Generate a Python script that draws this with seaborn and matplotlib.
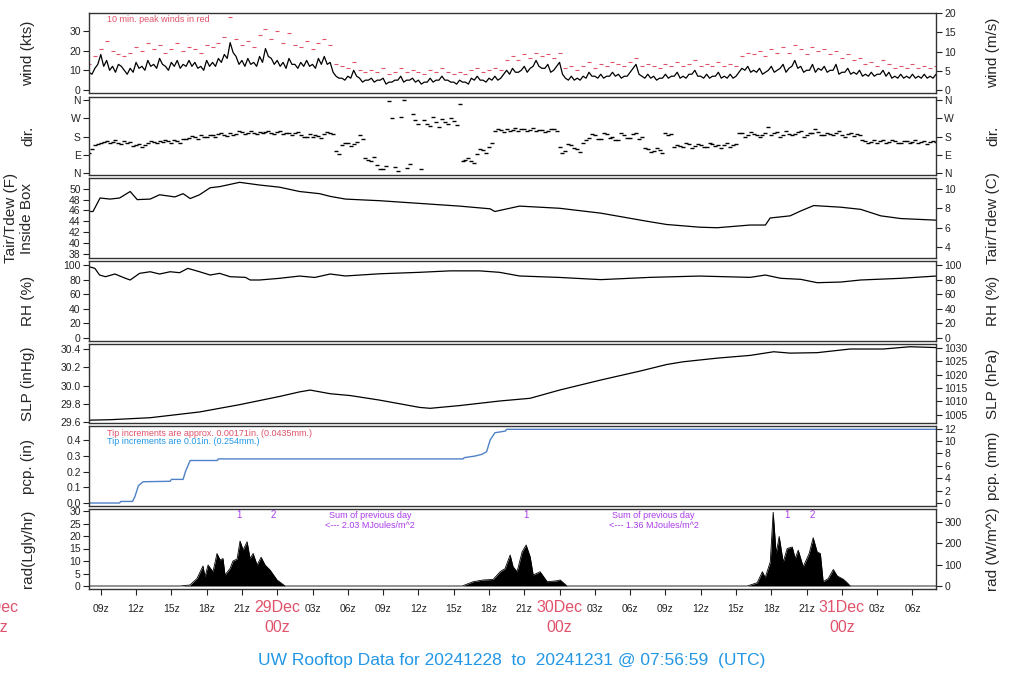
import numpy as np
import matplotlib
matplotlib.use("Agg")
import matplotlib.pyplot as plt
import seaborn as sns

sns.set_style("white")
plt.rcParams['font.family'] = ['Liberation Sans', 'DejaVu Sans']

## data (time = hours after 28 Dec 00z)
t_half = np.arange(8.0, 80.01, 0.5)
t_quarter = np.arange(8.25, 79.8, 0.5)

wind_kts = [9, 11, 18, 15, 12, 13, 10, 11, 14, 12, 15, 13,
            16, 12, 14, 15, 13, 15, 14, 12, 15, 14, 16, 18,
            24, 17, 15, 16, 14, 17, 21, 16, 15, 14, 16, 13,
            14, 15, 13, 16, 17, 14, 7, 6, 7, 10, 6, 5,
            6, 5, 6, 4, 5, 7, 5, 6, 5, 4, 6, 5,
            7, 5, 4, 5, 4, 6, 7, 5, 6, 7, 6, 10,
            11, 9, 12, 11, 15, 11, 13, 10, 14, 6, 7, 6,
            7, 9, 7, 8, 7, 9, 8, 7, 9, 13, 7, 8,
            7, 6, 8, 7, 9, 7, 8, 10, 7, 8, 7, 9,
            7, 8, 7, 11, 12, 10, 11, 9, 12, 10, 13, 11,
            15, 12, 10, 13, 11, 12, 10, 13, 9, 11, 9, 10,
            8, 9, 8, 10, 9, 7, 8, 7, 8, 7, 8, 7,
            8]
# readings between the half-hour ones (low side of the band)
wind_q = [8, 13, 12, 10, 9, 12, 8, 9, 11, 10, 12, 11,
          13, 10, 12, 11, 12, 12, 11, 10, 12, 12, 14, 16,
          19, 13, 12, 13, 12, 14, 17, 13, 12, 11, 13, 11,
          12, 12, 11, 13, 13, 9, 6, 5, 6, 7, 4, 5,
          4, 5, 3, 4, 5, 4, 5, 4, 3, 4, 4, 5,
          5, 4, 3, 4, 3, 5, 5, 4, 5, 5, 8, 8,
          9, 10, 9, 12, 12, 11, 9, 12, 8, 5, 5, 5,
          6, 7, 6, 6, 7, 7, 6, 7, 11, 8, 6, 6,
          5, 6, 6, 7, 6, 6, 8, 7, 6, 6, 7, 6,
          6, 6, 9, 10, 9, 9, 8, 10, 9, 11, 9, 12,
          11, 9, 10, 9, 10, 9, 10, 8, 9, 8, 8, 7,
          7, 7, 8, 7, 6, 6, 6, 6, 6, 6, 6, 6]

peak_kts = [13, 17, 21, 25, 20, 18, 17, 19, 22, 20, 24, 21,
            23, 19, 21, 24, 20, 22, 21, 19, 23, 22, 24, 27,
            37, 26, 23, 25, 22, 28, 31, 26, 30, 24, 29, 23,
            22, 25, 21, 24, 26, 23, 13, 12, 11, 14, 10, 9,
            10, 9, 11, 8, 9, 11, 9, 10, 9, 8, 10, 9,
            11, 9, 8, 9, 8, 10, 11, 9, 10, 11, 10, 15,
            17, 15, 18, 16, 19, 17, 18, 16, 19, 11, 12, 10,
            12, 14, 11, 13, 12, 14, 13, 12, 14, 16, 12, 13,
            12, 11, 13, 12, 14, 12, 13, 15, 12, 13, 12, 14,
            12, 13, 12, 17, 19, 18, 20, 17, 21, 19, 22, 19,
            23, 21, 18, 22, 20, 21, 18, 20, 16, 18, 15, 16,
            13, 14, 12, 15, 13, 11, 12, 11, 13, 11, 12, 11,
            12]

dir_deg = [100, 140, 150, 160, 155, 150, 160, 155, 140, 128, 150, 155,
           160, 165, 150, 160, 170, 175, 180, 185, 178, 185, 190, 188,
           195, 190, 200, 198, 195, 202, 200, 196, 200, 192, 198, 195,
           185, 180, 178, 183, 190, 197, 110, 140, 148, 145, 185, 75,
           60, 40, 20, 355, 30, 275, 25, 290, 240, 260, 230, 250,
           265, 240, 255, 340, 65, 60, 95, 115, 130, 205, 210, 215,
           212, 208, 215, 210, 205, 212, 208, 215, 130, 110, 140, 120,
           150, 175, 185, 170, 190, 180, 165, 185, 175, 195, 180, 120,
           110, 115, 195, 190, 140, 130, 145, 135, 140, 128, 145, 138,
           140, 130, 145, 195, 185, 190, 180, 195, 188, 200, 185, 192,
           190, 205, 185, 195, 200, 188, 192, 198, 185, 190, 182, 188,
           160, 155, 150, 162, 155, 158, 150, 160, 155, 148, 158, 152,
           155]
dir_q = [120, 145, 155, 150, 162, 145, 150, 135, 145, 140, 158, 150,
         155, 158, 165, 150, 168, 182, 170, 178, 188, 180, 195, 182,
         185, 205, 192, 205, 190, 196, 205, 190, 205, 198, 188, 200,
         178, 190, 185, 175, 200, 192, 95, 150, 135, 155, 170, 65,
         80, 20, 35, 270, 10, 360, 45, 260, 20, 240, 275, 225,
         250, 270, 235, 60, 75, 50, 120, 100, 150, 215, 200, 205,
         220, 215, 205, 222, 210, 200, 218, 205, 100, 145, 125, 105,
         165, 190, 170, 195, 175, 165, 195, 175, 190, 168, 125, 105,
         125, 100, 185, 130, 135, 150, 125, 145, 130, 150, 135, 125,
         150, 140, 195, 180, 200, 188, 185, 225, 195, 180, 205, 185,
         200, 180, 195, 215, 185, 198, 185, 205, 180, 195, 190, 165,
         150, 165, 158, 148, 165, 150, 160, 148, 162, 155, 145, 160]

t_temp = [8.0, 8.34, 8.94, 9.79, 10.6, 11.5, 12.1, 13.2, 14.0, 15.3, 16.0, 16.6, 17.4, 18.3, 19.1,
          20.8, 22.5, 24.2, 25.9, 27.6, 28.5, 29.8, 32.7, 36.1, 39.5, 42.1, 42.5, 44.6, 48.0, 51.5,
          54.9, 55.7, 57.1, 59.9, 61.4, 64.2, 65.5, 65.9, 67.6, 68.5, 69.6, 71.9, 73.6, 75.3, 77.0, 80.0]
temp_f = [45.8, 45.8, 48.3, 48.1, 48.3, 49.5, 48.0, 48.1, 48.9, 48.5, 49.1, 48.2, 48.9, 50.2, 50.4,
          51.2, 50.7, 50.3, 49.5, 49.1, 48.6, 48.1, 47.8, 47.3, 46.8, 46.3, 45.8, 46.8, 46.4, 45.5,
          44.2, 43.9, 43.4, 42.9, 42.8, 43.3, 43.3, 44.6, 45.0, 45.9, 46.9, 46.6, 46.2, 45.0, 44.5, 44.2]

t_rh = [8.0, 8.5, 8.9, 9.4, 10.2, 11.1, 11.5, 12.3, 13.2, 14.0, 14.9, 15.7, 16.4, 17.4, 18.3,
        19.1, 20.0, 21.3, 21.7, 22.5, 24.2, 25.9, 27.2, 28.5, 29.8, 32.7, 36.1, 38.7, 41.2, 42.9,
        44.6, 48.0, 51.5, 55.7, 59.9, 64.2, 65.5, 66.8, 68.5, 69.9, 71.9, 73.6, 77.0, 80.0]
rh = [97.7, 95.4, 86.3, 84.0, 87.7, 81.8, 79.5, 88.6, 90.8, 87.7, 90.8, 89.5, 95.4, 90.8, 86.3,
      88.6, 84.0, 83.1, 79.5, 79.5, 81.8, 84.9, 83.0, 87.7, 85.0, 88.0, 90.0, 92.0, 92.0, 90.0,
      85.0, 83.0, 80.0, 83.1, 84.9, 83.1, 86.3, 81.8, 80.4, 75.8, 76.7, 79.5, 81.8, 84.9]

t_slp = [8.0, 9.8, 13.2, 17.4, 20.8, 24.2, 25.9, 26.8, 28.5, 30.2, 32.7, 36.1, 37.0, 39.5, 42.9,
         45.5, 48.0, 51.5, 54.9, 57.1, 58.5, 61.4, 64.2, 66.2, 67.6, 69.9, 72.7, 75.5, 77.8, 80.0]
slp = [29.62, 29.625, 29.647, 29.71, 29.79, 29.88, 29.93, 29.95, 29.91, 29.89, 29.84, 29.76, 29.75, 29.78, 29.83,
       29.86, 29.95, 30.06, 30.16, 30.23, 30.26, 30.30, 30.33, 30.37, 30.355, 30.36, 30.40, 30.40, 30.425, 30.416]

t_pcp = [8.0, 10.6, 10.7, 11.7, 11.9, 12.2, 12.6, 14.9, 15.0, 16.0, 16.2, 16.6, 18.9, 19.0,
         39.8, 39.9, 40.8, 41.4, 41.8, 42.1, 42.5, 43.4, 43.5, 80.0]
pcp = [0, 0, 0.01, 0.01, 0.04, 0.11, 0.135, 0.138, 0.15, 0.15, 0.2, 0.27, 0.27, 0.28,
       0.28, 0.288, 0.298, 0.309, 0.326, 0.4, 0.446, 0.457, 0.468, 0.468]

t_rad = [8.0,
         15.74, 16.59, 17.18, 17.69, 17.86, 18.12, 18.54, 18.88, 19.14, 19.39, 19.56, 19.99, 20.24,
         20.59, 20.84, 21.1, 21.44, 21.69, 21.95, 22.29, 22.63, 22.97, 23.39, 23.99, 24.67,
         39.72, 40.65, 41.5, 42.35, 42.95, 43.37, 43.8, 44.05, 44.39, 44.82, 45.16, 45.5, 45.76,
         46.35, 46.95, 47.8, 48.05, 48.64,
         63.95, 64.8, 65.24, 65.48, 65.91, 66.16, 66.41, 66.67, 67.01, 67.35, 67.78, 68.03, 68.29,
         68.71, 69.22, 69.56, 69.9, 70.17, 70.41, 70.84, 71.27, 71.61, 72.12, 72.45, 72.71,
         80.0]
rad = [0,
       0, 0.4, 3, 8, 3.7, 8.4, 5.7, 13, 10.4, 11, 4.4, 7, 10,
       10.8, 18, 14.4, 17.7, 11, 13, 8.4, 11.5, 8.4, 6.4, 2.4, 0,
       0, 1.7, 2.4, 2.6, 5.7, 7, 12.4, 7.7, 5.7, 13.7, 16.4, 11.7, 4.4,
       5.7, 1.7, 2.1, 2.4, 0,
       0, 1.3, 5.7, 3.4, 9.6, 29.5, 13, 19.8, 9.6, 15, 15.6, 11, 14.3,
       7.7, 13, 19.3, 13.6, 13, 1.7, 3, 6.6, 4, 2.7, 1.3, 0,
       0]

hour_ticks = np.arange(9, 79, 3)
day_hours = [0, 24, 48, 72]
day_names = ["28Dec", "29Dec", "30Dec", "31Dec"]

RED = "#DF536B"
BLUE = "#2297E6"
PURPLE = "#A93BE8"

fig = plt.figure(figsize=(10.24, 7.0), dpi=100)

def box(top, bot):
    return [89/1024, 1-bot/700, (936-89)/1024, (bot-top)/700]

rows = [(13, 93), (97, 175), (178, 258), (261, 341), (344, 423), (426, 506), (509, 589)]
axs = [fig.add_axes(box(a, b)) for a, b in rows]

for ax in axs:
    ax.set_xlim(8.0, 80.0)
    for s in ax.spines.values():
        s.set_linewidth(1.0)
        s.set_color("#333333")
    ax.tick_params(axis='y', direction='out', length=4, width=0.8, labelsize=7.5,
                   colors='#222222', left=True, pad=2)
    ax.tick_params(axis='x', bottom=False, labelbottom=False)

def sec(ax, f, g, ticks, labels=None):
    s = ax.secondary_yaxis('right', functions=(f, g))
    s.set_yticks(ticks)
    if labels is not None:
        s.set_yticklabels(labels)
    s.tick_params(direction='out', length=4, width=0.8, labelsize=7.5, colors='#222222', pad=2)
    s.spines['right'].set_visible(False)
    return s

# wind: merge the two readings into one noisy trace
t_w = np.concatenate([t_half, t_quarter])
w = np.concatenate([wind_kts, wind_q])
order = np.argsort(t_w)
ax = axs[0]
sns.lineplot(x=t_w[order], y=w[order], ax=ax, color='black', lw=0.9, estimator=None)
ax.plot(t_half, peak_kts, ls='none', marker='_', ms=3, mew=0.8, color=RED)
ax.set_ylim(-1.5, 39)
ax.set_yticks([0, 10, 20, 30])
sec(ax, lambda x: x*0.514444, lambda x: x/0.514444, [0, 5, 10, 15, 20])
fig.text(107/1024, 1-19/700, "10 min. peak winds in red", color=RED, fontsize=6.5, va='center')

# direction
ax = axs[1]
ax.plot(t_half, dir_deg, ls='none', marker='_', ms=3.5, mew=1.0, color='black')
ax.plot(t_quarter, dir_q, ls='none', marker='_', ms=3.5, mew=1.0, color='black')
ax.set_ylim(-10, 375)
ax.set_yticks([0, 90, 180, 270, 360])
ax.set_yticklabels(["N", "E", "S", "W", "N"])
sec(ax, lambda x: x, lambda x: x, [0, 90, 180, 270, 360], ["N", "E", "S", "W", "N"])

# temperature
ax = axs[2]
sns.lineplot(x=t_temp, y=temp_f, ax=ax, color='black', lw=0.9, estimator=None)
ax.set_ylim(37.2, 52.0)
ax.set_yticks(np.arange(38, 51, 2))
sec(ax, lambda x: (x-32)*5/9, lambda x: x*9/5+32, [4, 6, 8, 10])

# RH
ax = axs[3]
sns.lineplot(x=t_rh, y=rh, ax=ax, color='black', lw=0.9, estimator=None)
ax.set_ylim(-4, 105.5)
ax.set_yticks(np.arange(0, 101, 20))
sec(ax, lambda x: x, lambda x: x, np.arange(0, 101, 20))

# SLP
ax = axs[4]
sns.lineplot(x=t_slp, y=slp, ax=ax, color='black', lw=0.9, estimator=None)
ax.set_ylim(29.589, 30.455)
ax.set_yticks([29.6, 29.8, 30.0, 30.2, 30.4])
ax.set_yticklabels(["29.6", "29.8", "30.0", "30.2", "30.4"])
sec(ax, lambda x: x*33.8639, lambda x: x/33.8639, [1005, 1010, 1015, 1020, 1025, 1030])

# precipitation
ax = axs[5]
sns.lineplot(x=t_pcp, y=pcp, ax=ax, color="#4F81C7", lw=1.0, estimator=None)
ax.set_ylim(-0.019, 0.489)
ax.set_yticks([0.0, 0.1, 0.2, 0.3, 0.4])
ax.set_yticklabels(["0.0", "0.1", "0.2", "0.3", "0.4"])
sec(ax, lambda x: x*25.4, lambda x: x/25.4, [0, 2, 4, 6, 8, 10, 12])
fig.text(107/1024, 1-433/700, "Tip increments are approx. 0.00171in. (0.0435mm.)", color=RED, fontsize=6.5, va='center')
fig.text(107/1024, 1-441/700, "Tip increments are 0.01in. (0.254mm.)", color=BLUE, fontsize=6.5, va='center')

# radiation
ax = axs[6]
ax.fill_between(t_rad, rad, 0, color='black', lw=0)
sns.lineplot(x=t_rad, y=rad, ax=ax, color='black', lw=0.6, estimator=None)
ax.set_ylim(-1.2, 30.8)
ax.set_yticks(np.arange(0, 31, 5))
sec(ax, lambda x: x*11.63, lambda x: x/11.63, [0, 100, 200, 300])
ax.set_xticks(hour_ticks)
ax.set_xticklabels(["" if h % 24 == 0 else "%02dz" % (h % 24) for h in hour_ticks])
ax.tick_params(axis='x', bottom=True, labelbottom=True, direction='out', length=4, width=0.8,
               labelsize=7.5, colors='#222222', pad=7)
for h, name in zip(day_hours, day_names):
    ax.text(h, -0.23, name, transform=ax.get_xaxis_transform(), ha='center', va='center',
            fontsize=11.5, color=RED, clip_on=False)
    ax.text(h, -0.48, "00z", transform=ax.get_xaxis_transform(), ha='center', va='center',
            fontsize=11.5, color=RED, clip_on=False)

for h, s in [(20.76, "1"), (23.65, "2"), (45.16, "1"), (67.3, "1"), (69.5, "2")]:
    ax.text(h, 28.6, s, color=PURPLE, fontsize=7, ha='center', va='center')
for h, s in [(31.9, "2.03"), (56.0, "1.36")]:
    ax.text(h, 28.4, "Sum of previous day", color=PURPLE, fontsize=6.5, ha='center', va='center')
    ax.text(h, 24.0, "<--- " + s + " MJoules/m^2", color=PURPLE, fontsize=6.5, ha='center', va='center')

# axis labels
left_lab = ["wind (kts)", "dir.", "Tair/Tdew (F)\nInside Box", "RH (%)", "SLP (inHg)", "pcp. (in)", "rad(Lgly/hr)"]
right_lab = ["wind (m/s)", "dir.", "Tair/Tdew (C)", "RH (%)", "SLP (hPa)", "pcp. (mm)", "rad (W/m^2)"]
for (a, b), l, r in zip(rows, left_lab, right_lab):
    yc = 1 - (a+b)/2/700
    xl = 19/1024 if "\n" in l else 28/1024
    fig.text(xl, yc, l, rotation=90, ha='center', va='center', fontsize=11, linespacing=1.1)
    fig.text(993/1024, yc, r, rotation=90, ha='center', va='center', fontsize=11)

fig.text(0.5, 1-660/700, "UW Rooftop Data for 20241228  to  20241231 @ 07:56:59  (UTC)",
         ha='center', va='center', fontsize=12.5, color=BLUE)

fig.savefig("out.png", dpi=100)
